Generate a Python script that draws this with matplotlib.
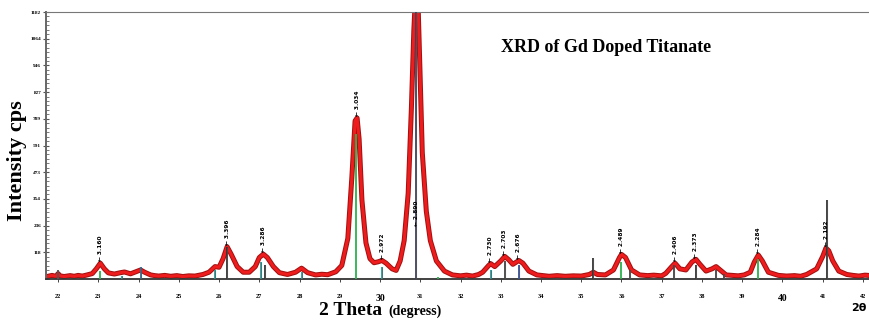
import matplotlib
matplotlib.use("Agg")
import matplotlib.pyplot as plt
from matplotlib.ticker import AutoMinorLocator

two_theta = [21.75, 21.85, 21.95, 22.0, 22.05, 22.15, 22.3, 22.4, 22.5, 22.6,
             22.7, 22.85, 22.95, 23.05, 23.15, 23.25, 23.4, 23.55, 23.65, 23.8,
             23.95, 24.05, 24.15, 24.3, 24.4, 24.5, 24.65, 24.8, 24.95, 25.1,
             25.25, 25.4, 25.6, 25.75, 25.9, 26.0, 26.1, 26.2, 26.3, 26.45,
             26.6, 26.75, 26.9, 27.0, 27.1, 27.2, 27.35, 27.5, 27.7, 27.9,
             28.05, 28.2, 28.4, 28.55, 28.7, 28.9, 29.05, 29.2, 29.3, 29.38,
             29.43, 29.48, 29.55, 29.65, 29.75, 29.85, 29.95, 30.05, 30.15, 30.3,
             30.4, 30.5, 30.6, 30.7, 30.78, 30.84, 30.88, 30.94, 30.98, 31.05,
             31.15, 31.25, 31.4, 31.6, 31.8, 32.0, 32.15, 32.3, 32.45, 32.55,
             32.7, 32.75, 32.85, 33.0, 33.1, 33.2, 33.3, 33.45, 33.55, 33.7,
             33.9, 34.05, 34.2, 34.4, 34.6, 34.8, 35.0, 35.2, 35.3, 35.4,
             35.6, 35.8, 35.95, 36.0, 36.1, 36.25, 36.45, 36.65, 36.8, 37.0,
             37.1, 37.25, 37.33, 37.45, 37.6, 37.75, 37.85, 37.95, 38.1, 38.25,
             38.35, 38.45, 38.6, 38.75, 38.9, 39.05, 39.2, 39.3, 39.4, 39.5,
             39.65, 39.9, 40.1, 40.3, 40.45, 40.6, 40.85, 41.0, 41.08, 41.15,
             41.25, 41.4, 41.6, 41.75, 41.9, 42.05, 42.2]
counts = [12, 16, 12, 24, 14, 11, 15, 12, 16, 13,
          17, 24, 45, 70, 45, 27, 22, 28, 31, 23,
          33, 40, 30, 18, 15, 13, 16, 12, 15, 11,
          14, 13, 20, 30, 55, 52, 90, 143, 110, 55,
          30, 30, 55, 95, 110, 95, 55, 28, 20, 30,
          48, 28, 18, 21, 19, 32, 60, 180, 450, 700,
          713, 620, 350, 160, 90, 72, 76, 82, 70, 45,
          38, 80, 170, 380, 760, 1100, 1250, 1250, 1000, 560,
          300, 170, 80, 35, 18, 14, 17, 13, 20, 30,
          60, 68, 55, 80, 100, 85, 65, 82, 70, 35,
          18, 15, 12, 15, 12, 14, 13, 20, 30, 20,
          18, 40, 95, 109, 95, 40, 18, 15, 17, 14,
          25, 55, 70, 45, 40, 75, 87, 65, 35, 45,
          55, 40, 18, 16, 14, 18, 30, 75, 106, 80,
          30, 16, 13, 15, 12, 20, 45, 100, 137, 125,
          80, 35, 20, 16, 13, 17, 15]

# reference pattern sticks
stick_pos = [22.0, 23.05, 23.6, 24.05, 25.9, 26.2, 27.05, 27.15, 28.05, 29.4,
             30.05, 30.9, 31.45, 32.75, 33.1, 33.45, 35.3, 36.0, 36.2, 37.3,
             37.85, 38.35, 38.55, 39.4, 41.1]
stick_int = [40, 37, 15, 55, 40, 140, 77, 60, 30, 640,
             55, 1182, 10, 40, 80, 60, 93, 75, 40, 60,
             60, 40, 20, 90, 350]
stick_col = ["#555555", "#2bb24c", "#20a0a0", "#3070a0", "#20a0a0", "#333333",
             "#20a0a0", "#333333", "#20a0a0", "#2bb24c", "#20a0a0", "#404060",
             "#2bb24c", "#20a0a0", "#444444", "#3050b0", "#333333", "#2bb24c",
             "#444444", "#444444", "#333333", "#444444", "#444444", "#2bb24c",
             "#333333"]

# d-spacing labels
d_pos = [23.05, 26.2, 27.1, 29.43, 30.05, 30.9, 32.75, 33.1, 33.45, 36.0,
         37.33, 37.85, 39.4, 41.1]
d_at = [72, 145, 112, 715, 84, 230, 70, 101, 83, 111,
        72, 89, 108, 139]
d_text = ["3.160", "3.396", "3.286", "3.034", "2.972", "2.890", "2.730", "2.703",
          "2.676", "2.489", "2.406", "2.373", "2.284", "2.192"]

y_ticks = [118.2, 236.4, 354.6, 472.8, 591.0, 709.2, 827.4, 945.6, 1063.8, 1182.0]
y_labels = ["118", "236", "354", "473", "591", "709", "827", "946", "1064", "1182"]
x_ticks = list(range(22, 43))

serif = "Liberation Serif"

fig = plt.figure(figsize=(8.69, 3.2), dpi=100)
ax = fig.add_axes([46 / 869, 41 / 320, 823 / 869, 267 / 320])

ax.vlines(stick_pos, 0, stick_int, colors=stick_col, linewidth=1.3, zorder=3)
ax.plot(two_theta, counts, color="#a01010", linewidth=3.6, zorder=2,
        solid_joinstyle="round")
ax.plot(two_theta, counts, color="#ee1c1c", linewidth=2.2, zorder=2,
        solid_joinstyle="round")
ax.vlines([s for s, c in zip(stick_pos, stick_col) if c != "#2bb24c"], 0,
          [i for i, c in zip(stick_int, stick_col) if c != "#2bb24c"],
          colors="#555555", linewidth=0.8, zorder=4, alpha=0.6)

for p, h, t in zip(d_pos, d_at, d_text):
    ax.text(p, h + 6, "\u2190 " + t, rotation=90, ha="center", va="bottom",
            fontsize=4.2, fontweight="bold", family="DejaVu Sans", zorder=5)

ax.set_xlim(21.7, 42.15)
ax.set_ylim(0, 1182)

ax.set_yticks(y_ticks)
ax.set_yticklabels(y_labels, fontsize=3.8, fontweight="bold", family=serif)
ax.yaxis.set_minor_locator(AutoMinorLocator(6))
ax.tick_params(axis="y", which="major", direction="inout", length=5, width=0.8,
               pad=1, colors="#555555", labelcolor="black")
ax.tick_params(axis="y", which="minor", direction="in", length=2.5, width=0.6,
               colors="#666666")

ax.set_xticks(x_ticks)
ax.set_xticklabels([str(v) for v in x_ticks], fontsize=4.5, fontweight="bold",
                   family=serif)
for lab in ax.get_xticklabels():
    if lab.get_text() in ("30", "40"):
        lab.set_fontsize(7)
ax.tick_params(axis="x", direction="out", length=2.5, width=0.7, pad=8,
               colors="#444444", labelcolor="black")

ax.spines["right"].set_visible(False)
ax.spines["left"].set_linewidth(1.4)
ax.spines["left"].set_color("#666666")
ax.spines["bottom"].set_linewidth(1.3)
ax.spines["bottom"].set_color("#333333")
ax.spines["top"].set_linewidth(0.8)
ax.spines["top"].set_color("#777777")

fig.text(606 / 869, 1 - 47 / 320, "XRD of Gd Doped Titanate", ha="center",
         va="center", fontsize=13, fontweight="bold", family=serif)
fig.text(17 / 869, 1 - 161 / 320, "Intensity cps", rotation=90, ha="center",
         va="center", fontsize=16, fontweight="bold", family=serif)
fig.text(382 / 869, 1 - 310.5 / 320, "2 Theta", ha="right", va="center",
         fontsize=14, fontweight="bold", family=serif)
fig.text(388 / 869, 1 - 311.5 / 320, "(degress)", ha="left", va="center",
         fontsize=10, fontweight="bold", family=serif)
fig.text(867 / 869, 1 - 308 / 320, "2\u03b8", ha="right", va="center",
         fontsize=8, fontweight="bold", family="DejaVu Sans")

fig.savefig("out.png", dpi=100)
